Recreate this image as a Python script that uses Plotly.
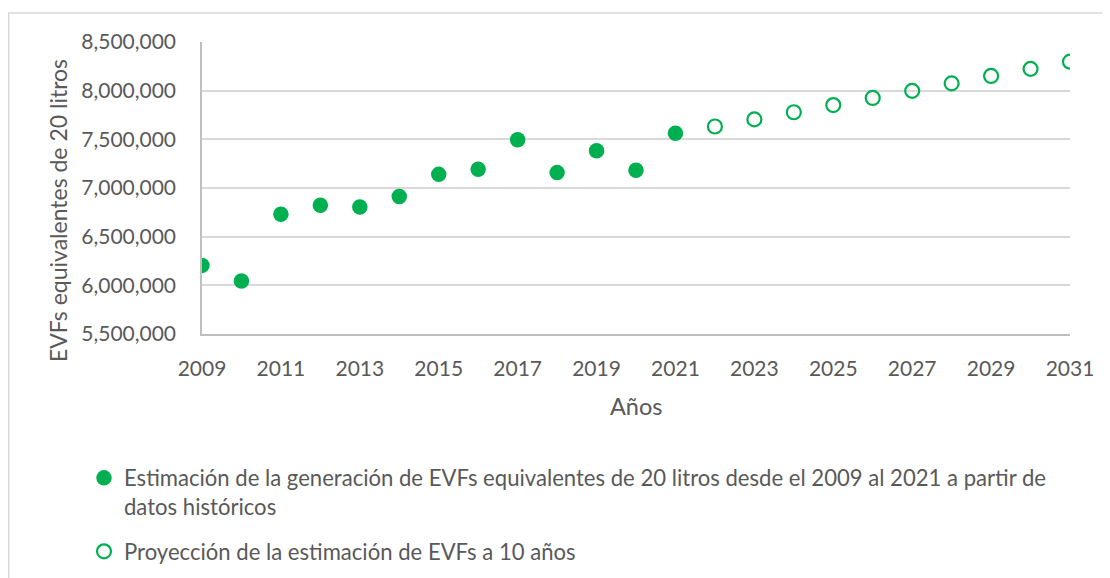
import plotly.graph_objects as go

# Data
years_hist = [2009, 2010, 2011, 2012, 2013, 2014, 2015, 2016, 2017, 2018, 2019, 2020, 2021]
evf_hist = [6205000, 6045000, 6730000, 6822000, 6805000, 6912000, 7140000, 7192000, 7495000,
            7158000, 7382000, 7182000, 7562000]
years_proj = [2022, 2023, 2024, 2025, 2026, 2027, 2028, 2029, 2030, 2031]
evf_proj = [7632000, 7705000, 7778000, 7852000, 7925000, 7998000, 8075000, 8151000, 8224000, 8298000]

name_hist = ("Estimación de la generación de EVFs equivalentes de 20 litros desde el 2009 al 2021 a partir de"
             "<br>datos históricos")
name_proj = "Proyección de la estimación de EVFs a 10 años"
x_title = "Años"
y_title = "EVFs equivalentes de 20 litros"

GREEN = "#00b050"
TXT = "#595959"
FONT = "Lato, Carlito, Calibri, sans-serif"

W, H = 1110, 578
OFF = 8  # page body offset
L, T = 202 - OFF, 42 - OFF
R = W - (1070 - OFF)
B = H - (334 - OFF)
PW, PH = W - L - R, H - T - B

fig = go.Figure()
fig.add_trace(go.Scatter(
    x=years_hist, y=evf_hist, mode="markers", name=name_hist, legendgroup="a",
    marker=dict(symbol="circle", size=15.5, color=GREEN, line=dict(width=0)),
))
fig.add_trace(go.Scatter(
    x=years_proj, y=evf_proj, mode="markers", name=name_proj, legendgroup="b",
    marker=dict(symbol="circle-open", size=14, color=GREEN, line=dict(width=2.2, color=GREEN)),
))

fig.update_layout(
    width=W, height=H,
    margin=dict(l=L, r=R, t=T, b=B, pad=0, autoexpand=False),
    paper_bgcolor="white", plot_bgcolor="white",
    font=dict(family=FONT, size=21, color=TXT),
    showlegend=True,
    legend=dict(
        xref="container", yref="container",
        x=76 / W, y=1 - 449 / H, xanchor="left", yanchor="top",
        font=dict(family=FONT, size=22.1, color=TXT),
        valign="top", traceorder="grouped", tracegroupgap=13,
        bgcolor="rgba(0,0,0,0)",
    ),
    xaxis=dict(
        range=[2009, 2031], tickmode="array",
        tickvals=list(range(2009, 2032, 2)), ticktext=[str(v) for v in range(2009, 2032, 2)],
        showgrid=False, zeroline=False, showline=True, linecolor="#bfbfbf", linewidth=1.5,
        ticks="outside", ticklen=15, tickcolor="rgba(0,0,0,0)", tickfont=dict(size=21, color=TXT),
        automargin=False,
    ),
    yaxis=dict(
        range=[5500000, 8500000], tickmode="linear", tick0=5500000, dtick=500000,
        tickformat=",d", showgrid=True, gridcolor="#d9d9d9", gridwidth=1.5,
        zeroline=False, showline=True, linecolor="#bfbfbf", linewidth=1.5,
        ticks="outside", ticklen=20, tickcolor="rgba(0,0,0,0)", tickfont=dict(size=21, color=TXT),
        automargin=False,
    ),
    annotations=[
        dict(text=x_title, xref="paper", yref="paper", x=0.5, y=-(406 - 334) / PH,
             xanchor="center", yanchor="middle", showarrow=False,
             font=dict(family=FONT, size=23.5, color=TXT)),
        dict(text=y_title, xref="paper", yref="paper", x=-(202 - 58) / PW,
             y=1 - (211 - 42) / PH, textangle=-90,
             xanchor="center", yanchor="middle", showarrow=False,
             font=dict(family=FONT, size=23, color=TXT)),
    ],
    shapes=[
        dict(type="rect", xref="paper", yref="paper",
             x0=-(L - 0.75) / PW, x1=(W + 20 - L) / PW,
             y0=-(B + 20) / PH, y1=1 + (T - 5) / PH,
             line=dict(color="#d9d9d9", width=1.5), layer="below"),
    ],
)

fig.write_html("out.html")
